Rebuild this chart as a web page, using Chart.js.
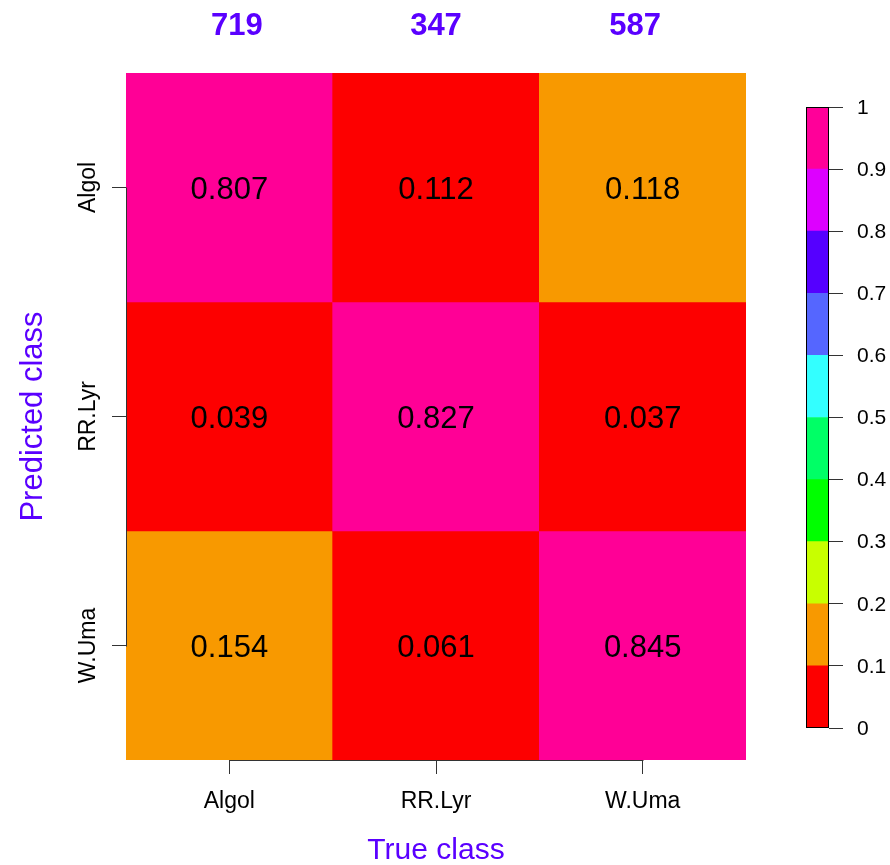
<!DOCTYPE html>
<html><head><meta charset="utf-8">
<script src="https://cdn.jsdelivr.net/npm/chart.js@4.4.0/dist/chart.umd.min.js"></script>
<style>
html,body{margin:0;padding:0;background:#fff;overflow:hidden;width:890px;height:865px}
#main{position:absolute;left:0;top:0}
#bar{position:absolute;left:790px;top:0}
</style></head>
<body>
<canvas id="main" width="790" height="865"></canvas>
<canvas id="bar" width="100" height="865"></canvas>
<script>
// ---- data ----
const trueClasses = ['Algol', 'RR.Lyr', 'W.Uma'];
const predictedClasses = ['Algol', 'RR.Lyr', 'W.Uma'];
const classCounts = [719, 347, 587];
// rows = predicted class, columns = true class
const predAlgol = [0.807, 0.112, 0.118];
const predRRLyr = [0.039, 0.827, 0.037];
const predWUma  = [0.154, 0.061, 0.845];
const colorbarBreaks = [0, 0.1, 0.2, 0.3, 0.4, 0.5, 0.6, 0.7, 0.8, 0.9, 1];
const colorbarTickLabels = ['0', '0.1', '0.2', '0.3', '0.4', '0.5', '0.6', '0.7', '0.8', '0.9', '1'];

// ---- styles ----
const FONT = "'Liberation Sans', Arial, Helvetica, sans-serif";
const PURPLE = '#5a00ff';
const AXIS = '#333333';
const colorbarColors = ['#fd0000', '#f89900', '#c8ff00', '#00ff00', '#00ff66',
                        '#33ffff', '#5566ff', '#5500ff', '#dd00ff', '#ff0099'];
const cellPalette = {low: '#fd0000', mid: '#f89900', high: '#ff0096'};
function cellColor(v) {
  if (v >= 0.8) return cellPalette.high;
  if (v >= 0.115) return cellPalette.mid;
  return cellPalette.low;
}

const matrix = [predAlgol, predRRLyr, predWUma];
const nRows = matrix.length;

const datasets = matrix.map((row, r) => ({
  label: predictedClasses[r],
  data: row.map(() => [nRows - 1 - r, nRows - r]),
  cellValues: row,
  backgroundColor: row.map(cellColor),
  borderWidth: 0,
  borderSkipped: false,
  barPercentage: 1,
  categoryPercentage: 1,
  grouped: false
}));

const mainPlugin = {
  id: 'mainDecor',
  afterDatasetsDraw(chart) {
    const ctx = chart.ctx;
    ctx.save();
    ctx.fillStyle = '#000';
    ctx.font = `31px ${FONT}`;
    ctx.textAlign = 'center';
    ctx.textBaseline = 'alphabetic';
    chart.data.datasets.forEach((ds, di) => {
      const meta = chart.getDatasetMeta(di);
      meta.data.forEach((el, i) => {
        const p = el.getProps(['x', 'y', 'base'], true);
        const cy = (p.y + p.base) / 2;
        ctx.fillText(ds.cellValues[i].toFixed(3), p.x, cy + 11);
      });
    });
    ctx.restore();
  },
  afterDraw(chart) {
    const ctx = chart.ctx;
    const a = chart.chartArea;
    const x = chart.scales.x, y = chart.scales.y;
    ctx.save();
    // partial axis lines (R style)
    ctx.strokeStyle = AXIS;
    ctx.lineWidth = 1;
    const xs = trueClasses.map((_, i) => x.getPixelForValue(i));
    const ys = y.ticks.map(t => y.getPixelForValue(t.value));
    const by = Math.round(a.bottom) + 0.5;
    ctx.beginPath();
    ctx.moveTo(Math.round(xs[0]) + 0.5, by);
    ctx.lineTo(Math.round(xs[xs.length - 1]) + 0.5, by);
    ctx.stroke();
    const lx = Math.round(a.left) + 0.5;
    ctx.beginPath();
    ctx.moveTo(lx, Math.round(Math.min(...ys)) + 0.5);
    ctx.lineTo(lx, Math.round(Math.max(...ys)) + 0.5);
    ctx.stroke();

    // x tick labels
    ctx.fillStyle = '#000';
    ctx.font = `23px ${FONT}`;
    ctx.textAlign = 'center';
    ctx.textBaseline = 'alphabetic';
    trueClasses.forEach((lab, i) => ctx.fillText(lab, xs[i], a.bottom + 48));

    // y tick labels (rotated)
    predictedClasses.forEach((lab, r) => {
      const py = y.getPixelForValue(nRows - 1 - r + 0.5);
      ctx.save();
      ctx.translate(a.left - 31, py);
      ctx.rotate(-Math.PI / 2);
      ctx.fillText(lab, 0, 0);
      ctx.restore();
    });

    // class counts on top
    ctx.fillStyle = PURPLE;
    ctx.font = `bold 31px ${FONT}`;
    const mid = (a.left + a.right) / 2;
    classCounts.forEach((c, i) => ctx.fillText(String(c), xs[i] + (mid - xs[i]) * 0.037, 35));

    // axis titles
    ctx.font = `30px ${FONT}`;
    ctx.fillText('True class', mid, 859);
    ctx.save();
    ctx.translate(42, (a.top + a.bottom) / 2);
    ctx.rotate(-Math.PI / 2);
    ctx.font = `31px ${FONT}`;
    ctx.fillText('Predicted class', 0, 0);
    ctx.restore();
    ctx.restore();
  }
};

const tickGrid = {
  display: true,
  offset: false,
  drawOnChartArea: false,
  drawTicks: true,
  tickLength: 14,
  color: AXIS,
  lineWidth: 1
};

new Chart(document.getElementById('main'), {
  type: 'bar',
  data: {labels: trueClasses, datasets},
  options: {
    responsive: false,
    animation: false,
    layout: {padding: {left: 126, top: 73, right: 44, bottom: 105}},
    plugins: {legend: {display: false}, tooltip: {enabled: false}},
    scales: {
      x: {
        type: 'category',
        offset: true,
        grid: tickGrid,
        border: {display: false},
        ticks: {display: false},
        afterFit: s => { s.height = 0; }
      },
      y: {
        type: 'linear',
        min: 0,
        max: nRows,
        grid: tickGrid,
        border: {display: false},
        ticks: {display: false},
        afterBuildTicks: s => {
          s.ticks = predictedClasses.map((_, r) => ({value: nRows - 1 - r + 0.5}));
        },
        afterFit: s => { s.width = 0; }
      }
    }
  },
  plugins: [mainPlugin]
});

// ---- colour bar ----
const barDecor = {
  id: 'barDecor',
  afterDraw(chart) {
    const a = chart.chartArea, ctx = chart.ctx, y = chart.scales.y;
    ctx.save();
    ctx.strokeStyle = '#000';
    ctx.lineWidth = 1;
    ctx.strokeRect(Math.round(a.left) + 0.5, Math.round(a.top) + 0.5,
                   Math.round(a.right - a.left) - 1, Math.round(a.bottom - a.top) - 1);
    ctx.fillStyle = '#000';
    ctx.font = `21px ${FONT}`;
    ctx.textAlign = 'left';
    ctx.textBaseline = 'middle';
    colorbarBreaks.forEach((v, i) => {
      ctx.fillText(colorbarTickLabels[i], a.right + 28, y.getPixelForValue(v) + 1);
    });
    ctx.restore();
  }
};

new Chart(document.getElementById('bar'), {
  type: 'bar',
  data: {
    labels: [''],
    datasets: colorbarColors.map((c, i) => ({
      data: [[colorbarBreaks[i], colorbarBreaks[i + 1]]],
      backgroundColor: c,
      borderWidth: 0,
      borderSkipped: false,
      barPercentage: 1,
      categoryPercentage: 1,
      grouped: false
    }))
  },
  options: {
    responsive: false,
    animation: false,
    layout: {padding: {left: 16, right: 61, top: 107, bottom: 137}},
    plugins: {legend: {display: false}, tooltip: {enabled: false}},
    scales: {
      x: {display: false},
      y: {
        position: 'right',
        min: 0,
        max: 1,
        grid: {drawOnChartArea: false, drawTicks: true, tickLength: 14, color: AXIS, lineWidth: 1},
        border: {display: false},
        afterBuildTicks: s => { s.ticks = colorbarBreaks.map(v => ({value: v})); },
        ticks: {display: false},
        afterFit: s => { s.width = 0; }
      }
    }
  },
  plugins: [barDecor]
});
</script>
</body></html>
